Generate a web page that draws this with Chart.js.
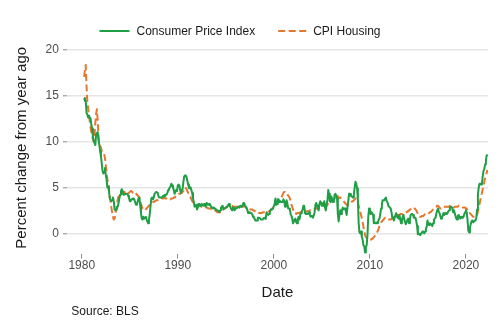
<!DOCTYPE html>
<html>
<head>
<meta charset="UTF-8">
<title>CPI vs CPI Housing</title>
<script src="https://cdn.jsdelivr.net/npm/chart.js@4"></script>
<style>
    body { margin: 0; background: #fff; }
</style>
</head>
<body>
<canvas id="cpiChart" width="500" height="332"></canvas>
<script>
// --- monthly series, first value = April 1980 ---
const START_YEAR = 1980;
const START_MONTH = 4;

// CPI all items, % change from a year ago
const cpiAll = [
    14.7, 14.4, 14.4, 13.1, 12.9, 12.6, 12.8, 12.6, 12.5,
    11.8, 11.4, 10.5, 10.0, 9.8, 9.6, 10.8, 10.8, 11.0, 10.1, 9.6, 8.9,
    8.4, 7.6, 6.8, 6.5, 6.7, 7.1, 6.4, 5.9, 5.0, 5.1, 4.6, 3.8,
    3.7, 3.5, 3.6, 3.9, 3.5, 2.6, 2.5, 2.6, 2.9, 2.9, 3.3, 3.8,
    4.2, 4.6, 4.8, 4.6, 4.2, 4.2, 4.2, 4.3, 4.3, 4.3, 4.1, 3.9,
    3.5, 3.5, 3.7, 3.7, 3.8, 3.8, 3.6, 3.3, 3.1, 3.2, 3.5, 3.8,
    3.9, 3.1, 2.2, 1.6, 1.5, 1.8, 1.6, 1.6, 1.8, 1.5, 1.3, 1.1,
    1.5, 2.1, 3.0, 3.8, 3.9, 3.7, 3.9, 4.3, 4.4, 4.5, 4.5, 4.4,
    4.0, 3.9, 3.9, 3.9, 3.9, 4.0, 4.1, 4.0, 4.2, 4.2, 4.2, 4.4,
    4.7, 4.8, 5.0, 5.1, 5.4, 5.2, 5.0, 4.7, 4.3, 4.5, 4.7, 4.6,
    5.2, 5.3, 5.2, 4.7, 4.4, 4.7, 4.8, 5.6, 6.2, 6.3, 6.3, 6.1,
    5.7, 5.3, 4.9, 4.9, 5.0, 4.7, 4.4, 3.8, 3.4, 2.9, 3.0, 3.1,
    2.6, 2.8, 3.2, 3.2, 3.0, 3.1, 3.2, 3.1, 3.0, 3.2, 3.0, 2.9,
    3.3, 3.2, 3.1, 3.2, 3.2, 3.0, 2.8, 2.8, 2.7, 2.8, 2.7, 2.7,
    2.5, 2.5, 2.5, 2.4, 2.3, 2.5, 2.8, 2.9, 3.0, 2.6, 2.7, 2.7,
    2.8, 2.9, 2.9, 3.1, 3.2, 3.0, 2.8, 2.6, 2.5, 2.8, 2.6, 2.5,
    2.7, 2.7, 2.8, 2.9, 2.9, 2.8, 3.0, 2.9, 3.0, 3.0, 3.3, 3.3,
    3.0, 3.0, 2.8, 2.5, 2.2, 2.3, 2.2, 2.2, 2.2, 2.1, 1.8, 1.7,
    1.6, 1.4, 1.4, 1.4, 1.7, 1.7, 1.7, 1.6, 1.5, 1.5, 1.5, 1.6,
    1.7, 1.6, 1.7, 2.3, 2.1, 2.0, 2.1, 2.3, 2.6, 2.6, 2.6, 2.7,
    2.7, 3.2, 3.8, 3.1, 3.2, 3.7, 3.7, 3.4, 3.5, 3.4, 3.4, 3.4,
    3.7, 3.5, 2.9, 3.3, 3.6, 3.2, 2.7, 2.7, 2.6, 2.1, 1.9, 1.6,
    1.1, 1.1, 1.5, 1.6, 1.2, 1.1, 1.5, 1.8, 1.5, 2.0, 2.2, 2.4,
    2.6, 3.0, 3.0, 2.2, 2.1, 2.1, 2.1, 2.2, 2.3, 2.0, 1.8, 1.9,
    1.9, 1.7, 1.7, 2.3, 3.1, 3.3, 3.0, 2.7, 2.5, 3.2, 3.5, 3.3,
    3.0, 3.0, 3.1, 3.5, 2.8, 2.5, 3.2, 3.6, 4.7, 4.3, 3.5, 3.4,
    4.0, 3.6, 3.4, 3.5, 4.2, 4.3, 4.1, 3.8, 2.1, 1.3, 2.0, 2.5,
    2.1, 2.4, 2.8, 2.6, 2.7, 2.7, 2.4, 2.0, 2.8, 3.5, 4.3, 4.1,
    4.3, 4.0, 4.0, 3.9, 4.2, 5.0, 5.6, 5.4, 4.9, 3.7, 1.1, 0.1,
    0.0, 0.2, -0.4, -0.7, -1.3, -1.4, -2.1, -1.5, -1.3, -0.2, 1.8, 2.7,
    2.6, 2.1, 2.3, 2.2, 2.0, 1.1, 1.2, 1.1, 1.1, 1.2, 1.1, 1.5,
    1.6, 2.1, 2.7, 3.2, 3.6, 3.6, 3.6, 3.8, 3.9, 3.5, 3.4, 3.0,
    2.9, 2.9, 2.7, 2.3, 1.7, 1.7, 1.4, 1.7, 2.0, 2.2, 1.8, 1.7,
    1.6, 2.0, 1.5, 1.1, 1.4, 1.8, 2.0, 1.5, 1.2, 1.0, 1.2, 1.5,
    1.6, 1.1, 1.5, 2.0, 2.1, 2.1, 2.0, 1.7, 1.7, 1.7, 1.3, 0.8,
    -0.1, 0.0, -0.1, -0.2, 0.0, 0.1, 0.2, 0.2, 0.0, 0.2, 0.5, 0.7,
    1.4, 1.0, 0.9, 1.1, 1.0, 1.0, 0.8, 1.1, 1.5, 1.6, 1.7, 2.1,
    2.5, 2.7, 2.4, 2.2, 1.9, 1.6, 1.7, 1.9, 2.2, 2.0, 2.2, 2.1,
    2.1, 2.2, 2.4, 2.5, 2.8, 2.9, 2.9, 2.7, 2.3, 2.5, 2.2, 1.9,
    1.6, 1.5, 1.9, 2.0, 1.8, 1.6, 1.8, 1.7, 1.7, 1.8, 2.1, 2.3,
    2.5, 2.3, 1.5, 0.3, 0.1, 0.6, 1.0, 1.3, 1.4, 1.2, 1.2, 1.4,
    1.4, 1.7, 2.6, 4.2, 5.0, 5.4, 5.4, 5.3, 5.4, 6.2, 6.8, 7.0,
    7.5, 7.9, 8.5, 8.4
];

// CPI housing, % change from a year ago
const cpiHousing = [
    17.0, 17.8, 18.3, 16.0, 14.3, 13.6, 12.8, 12.2, 11.6,
    11.0, 10.6, 10.2, 10.0, 10.8, 12.0, 13.0, 13.5, 12.2, 10.4, 9.8, 9.5,
    9.3, 9.0, 8.8, 8.8, 8.6, 8.2, 7.4, 6.6, 5.9, 5.4, 4.8, 4.0,
    3.4, 2.8, 2.3, 1.8, 1.5, 1.6, 2.0, 2.6, 3.2, 3.7, 4.0, 4.2,
    4.3, 4.5, 4.6, 4.6, 4.5, 4.4, 4.5, 4.6, 4.5, 4.4, 4.4, 4.4,
    4.5, 4.6, 4.6, 4.5, 4.4, 4.4, 4.5, 4.4, 4.3, 4.2, 4.1, 4.0,
    3.9, 3.6, 3.2, 2.9, 2.7, 2.6, 2.5, 2.5, 2.6, 2.7, 2.8, 2.9,
    3.0, 3.1, 3.2, 3.3, 3.3, 3.4, 3.4, 3.5, 3.5, 3.6, 3.6, 3.6,
    3.6, 3.7, 3.7, 3.7, 3.8, 3.8, 3.8, 3.9, 3.8, 3.8, 3.8, 3.8,
    3.8, 3.8, 3.8, 3.7, 3.8, 3.8, 3.8, 3.9, 3.9, 4.0, 4.1, 4.1,
    4.2, 4.3, 4.3, 4.3, 4.4, 4.4, 4.5, 4.6, 4.8, 5.0, 4.9, 4.8,
    4.6, 4.4, 4.2, 4.0, 3.9, 3.7, 3.5, 3.4, 3.3, 3.2, 3.1, 3.0,
    3.0, 3.0, 3.0, 3.0, 3.0, 2.9, 2.9, 2.9, 2.9, 2.8, 2.8, 2.8,
    2.8, 2.8, 2.7, 2.7, 2.7, 2.7, 2.6, 2.6, 2.6, 2.6, 2.5, 2.5,
    2.4, 2.3, 2.3, 2.3, 2.3, 2.3, 2.4, 2.4, 2.5, 2.6, 2.7, 2.7,
    2.8, 2.8, 2.9, 3.0, 3.0, 3.0, 3.0, 3.0, 3.0, 2.9, 2.9, 2.9,
    2.9, 2.9, 2.9, 2.8, 2.8, 2.9, 2.9, 2.9, 2.9, 2.9, 2.9, 3.0,
    2.9, 2.8, 2.7, 2.7, 2.7, 2.6, 2.6, 2.6, 2.6, 2.6, 2.5, 2.5,
    2.4, 2.4, 2.3, 2.3, 2.2, 2.2, 2.2, 2.2, 2.2, 2.2, 2.3, 2.3,
    2.3, 2.3, 2.3, 2.3, 2.3, 2.3, 2.4, 2.4, 2.5, 2.6, 2.7, 2.8,
    2.8, 3.0, 3.2, 3.2, 3.3, 3.4, 3.5, 3.6, 3.7, 3.8, 4.0, 4.2,
    4.4, 4.5, 4.5, 4.4, 4.4, 4.2, 4.1, 4.0, 3.8, 3.5, 3.1, 2.9,
    2.6, 2.4, 2.2, 2.2, 2.1, 2.2, 2.2, 2.2, 2.2, 2.3, 2.3, 2.3,
    2.3, 2.4, 2.4, 2.4, 2.4, 2.4, 2.4, 2.4, 2.4, 2.5, 2.5, 2.5,
    2.5, 2.5, 2.6, 2.6, 2.7, 2.7, 2.7, 2.7, 2.7, 2.8, 2.8, 2.9,
    2.9, 2.9, 3.0, 3.0, 3.0, 3.0, 3.0, 3.1, 3.3, 3.5, 3.5, 3.6,
    3.6, 3.6, 3.7, 3.7, 3.8, 3.9, 4.0, 4.2, 4.0, 3.8, 3.9, 3.9,
    3.8, 3.7, 3.6, 3.5, 3.4, 3.3, 3.2, 3.1, 3.1, 3.1, 3.2, 3.3,
    3.3, 3.4, 3.5, 3.5, 3.6, 3.7, 3.8, 3.8, 3.7, 3.4, 3.0, 2.6,
    2.3, 2.0, 1.6, 1.2, 0.7, 0.3, -0.2, -0.4, -0.5, -0.6, -0.6, -0.6,
    -0.7, -0.7, -0.6, -0.6, -0.5, -0.4, -0.3, -0.2, -0.1, 0.1, 0.3, 0.5,
    0.8, 1.0, 1.2, 1.3, 1.4, 1.5, 1.6, 1.7, 1.7, 1.6, 1.5, 1.5,
    1.5, 1.5, 1.5, 1.6, 1.6, 1.7, 1.8, 1.8, 1.9, 2.0, 2.0, 2.0,
    2.0, 2.0, 2.1, 2.1, 2.1, 2.1, 2.2, 2.2, 2.2, 2.3, 2.3, 2.4,
    2.4, 2.5, 2.6, 2.6, 2.7, 2.8, 2.8, 2.8, 2.7, 2.6, 2.5, 2.3,
    2.1, 1.9, 1.8, 1.8, 1.8, 1.9, 1.9, 1.9, 2.0, 2.1, 2.1, 2.2,
    2.2, 2.2, 2.2, 2.3, 2.3, 2.4, 2.5, 2.6, 2.7, 2.8, 2.9, 2.9,
    3.0, 3.0, 2.9, 2.8, 2.7, 2.7, 2.8, 2.8, 2.9, 2.9, 2.9, 2.9,
    2.9, 2.9, 2.9, 2.9, 3.0, 3.0, 2.9, 2.9, 2.9, 2.8, 2.9, 2.9,
    2.9, 2.9, 2.9, 3.0, 3.0, 2.9, 2.9, 2.9, 2.8, 2.8, 2.8, 2.8,
    2.7, 2.7, 2.5, 2.3, 2.2, 2.2, 2.1, 2.0, 1.9, 1.8, 1.8, 1.8,
    1.8, 1.8, 2.0, 2.4, 2.8, 3.2, 3.6, 4.0, 4.4, 4.8, 5.2, 5.6,
    6.0, 6.3, 6.6, 6.9
];

const xTickYears = [1980, 1990, 2000, 2010, 2020];
const yTickValues = [0, 5, 10, 15, 20];

const GREEN = '#1f9e45';
const ORANGE = '#e6772e';
const FONT = '"Liberation Sans", Arial, Helvetica, sans-serif';

// month index -> decimal year
function toPoints(values) {
    return values.map((v, i) => ({ x: START_YEAR + (START_MONTH - 1 + i) / 12, y: v }));
}

// legend row above the panel: line sample + label for each dataset
const lineLegend = {
    id: 'lineLegend',
    afterDraw(chart) {
        const ctx = chart.ctx;
        const y = 31, sampleW = [30, 28], gap = 7, itemGap = 23;
        ctx.save();
        ctx.font = '12px ' + FONT;
        ctx.textBaseline = 'middle';
        ctx.textAlign = 'left';
        const items = chart.data.datasets.map((ds, i) => ({ ds, w: sampleW[i], tw: ctx.measureText(ds.label).width }));
        const total = items.reduce((s, it) => s + it.w + gap + it.tw, 0) + itemGap * (items.length - 1);
        let x = 240 - total / 2;
        items.forEach(it => {
            ctx.strokeStyle = it.ds.borderColor;
            ctx.lineWidth = it.ds.borderWidth;
            ctx.setLineDash(it.ds.borderDash || []);
            ctx.beginPath();
            ctx.moveTo(x, y);
            ctx.lineTo(x + it.w, y);
            ctx.stroke();
            ctx.setLineDash([]);
            ctx.fillStyle = '#1a1a1a';
            ctx.fillText(it.ds.label, x + it.w + gap, y + 0.5);
            x += it.w + gap + it.tw + itemGap;
        });
        ctx.restore();
    }
};

// caption under the x axis
const sourceNote = {
    id: 'sourceNote',
    afterDraw(chart) {
        const ctx = chart.ctx;
        ctx.save();
        ctx.font = '12px ' + FONT;
        ctx.fillStyle = '#1a1a1a';
        ctx.textBaseline = 'middle';
        ctx.textAlign = 'left';
        ctx.fillText('Source: BLS', chart.chartArea.left + 4.5, 311.5);
        ctx.restore();
    }
};

new Chart(document.getElementById('cpiChart'), {
    type: 'line',
    data: {
        datasets: [
            {
                label: 'Consumer Price Index',
                data: toPoints(cpiAll),
                borderColor: GREEN,
                borderWidth: 2,
                borderJoinStyle: 'round',
                pointRadius: 0,
                tension: 0
            },
            {
                label: 'CPI Housing',
                data: toPoints(cpiHousing),
                borderColor: ORANGE,
                borderWidth: 2,
                borderDash: [7, 3.5],
                borderJoinStyle: 'round',
                pointRadius: 0,
                tension: 0
            }
        ]
    },
    options: {
        responsive: false,
        animation: false,
        events: [],
        layout: { padding: { top: 42, left: 12.5, right: 12, bottom: 30.5 } },
        plugins: {
            legend: { display: false },
            tooltip: { enabled: false }
        },
        scales: {
            x: {
                type: 'linear',
                min: 1978.45,
                max: 2022.3,
                afterBuildTicks: scale => { scale.ticks = xTickYears.map(v => ({ value: v })); },
                grid: { drawOnChartArea: false, drawTicks: true, tickLength: 5, tickColor: '#8c8c8c', lineWidth: 1 },
                border: { display: false },
                ticks: {
                    padding: 0,
                    maxRotation: 0,
                    color: '#4d4d4d',
                    font: { size: 12, family: FONT },
                    callback: v => String(v)
                },
                title: {
                    display: true,
                    text: 'Date',
                    color: '#1a1a1a',
                    font: { size: 15, family: FONT },
                    padding: { top: 10.5, bottom: 0 }
                }
            },
            y: {
                min: -2.2,
                max: 20.8,
                afterBuildTicks: scale => { scale.ticks = yTickValues.map(v => ({ value: v })); },
                grid: { color: '#e5e5e5', lineWidth: 1.6, drawTicks: true, tickLength: 4, tickColor: '#8c8c8c', tickWidth: 1 },
                border: { display: false },
                ticks: {
                    padding: 4,
                    color: '#4d4d4d',
                    font: { size: 12, family: FONT }
                },
                title: {
                    display: true,
                    text: 'Percent change from year ago',
                    color: '#1a1a1a',
                    font: { size: 15, family: FONT },
                    padding: { top: 0, bottom: 11 }
                }
            }
        }
    },
    plugins: [lineLegend, sourceNote]
});
</script>
</body>
</html>
